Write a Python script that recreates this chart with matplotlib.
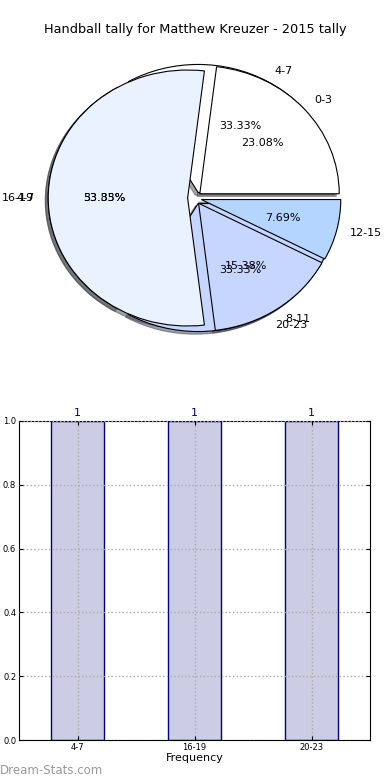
import matplotlib
matplotlib.use("Agg")
from matplotlib import pyplot as plt

# pie A: the 2015 tally (same bins as the bar chart)
tally_labels = ["4-7", "16-19", "20-23"]
tally_counts = [1, 1, 1]

# pie B: second ring of hour bins drawn on top
hour_labels = ["0-3", "4-7", "8-11", "12-15"]
hour_counts = [3, 7, 2, 1]

slice_colors = ["#FFFFFF", "#EAF1FF", "#C6D6FF", "#B3D5FF"]

W, H = 390, 780
fig = plt.figure(figsize=(W / 100, H / 100), dpi=100)

# pie axes, stretched (not round) like the original
cx, cy, rx, ry = 194.6, 198.0, 139.4, 128.0
ax1 = fig.add_axes([(cx - 1.25 * rx) / W, 1 - (cy + 1.25 * ry) / H,
                    2.5 * rx / W, 2.5 * ry / H])
for labels, counts in [(tally_labels, tally_counts), (hour_labels, hour_counts)]:
    ax1.pie(counts, labels=labels, colors=slice_colors[:len(counts)],
            explode=[0.05] * len(counts), autopct="%1.2f%%",
            shadow=dict(ox=-0.015, oy=-0.015),
            startangle=0, counterclock=True,
            wedgeprops=dict(edgecolor="black", linewidth=0.8),
            textprops=dict(fontsize=8))
ax1.set_aspect("auto")
ax1.set_xlim(-1.25, 1.25)
ax1.set_ylim(-1.25, 1.25)

fig.text(0.5, 1 - 30 / H, "Handball tally for Matthew Kreuzer - 2015 tally",
         ha="center", va="center", fontsize=9.3)

# bar chart
ax2 = fig.add_axes([19 / W, 40 / H, 351 / W, 319 / H])
xs = range(len(tally_labels))
bars = ax2.bar(xs, tally_counts, width=0.45, color="#CCCCE5",
               edgecolor="#000080", linewidth=1.0, zorder=2)
for b, v in zip(bars, tally_counts):
    ax2.text(b.get_x() + b.get_width() / 2, v + 0.01, str(v), ha="center",
             va="bottom", color="#000080", fontsize=8)
ax2.set_xlim(-0.5, 2.5)
ax2.set_ylim(0, 1.0)
ax2.set_xticks(list(xs))
ax2.set_xticklabels(tally_labels, fontsize=6)
ax2.set_yticks([0.0, 0.2, 0.4, 0.6, 0.8, 1.0])
ax2.set_yticklabels(["0.0", "0.2", "0.4", "0.6", "0.8", "1.0"], fontsize=6)
ax2.tick_params(direction="in", top=True, right=True, length=3, pad=2)
ax2.grid(True, linestyle=":", color="#aaaaaa", linewidth=1.0, zorder=3)
ax2.set_axisbelow(False)
ax2.set_xlabel("Frequency", fontsize=8, labelpad=1)

fig.text(0.0, 1 - 771 / H, "Dream-Stats.com", ha="left", va="center",
         fontsize=8.5, color="#999999")

fig.savefig("out.png", dpi=100)
